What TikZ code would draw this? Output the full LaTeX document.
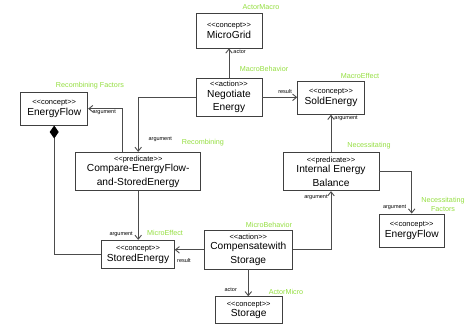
\documentclass[tikz,border=0pt]{standalone}
\usepackage{fontspec}
\setmainfont{Liberation Sans}
\usetikzlibrary{arrows.meta}
\definecolor{rolegreen}{RGB}{148,222,64}
\newcommand{\umltext}[2]{{\fontsize{7.5}{8}\selectfont <{}<#1>{}>}\\[-3pt]#2}

\begin{document}
\begin{tikzpicture}[x=1pt, y=-1pt, >={Straight Barb[length=4pt,width=6.5pt]},
    umlbox/.style={draw=black!75, line width=0.9pt, align=center, inner sep=1pt, font=\fontsize{10.2}{13.5}\selectfont},
    link/.style={->, draw=black!70, line width=0.9pt},
    role/.style={text=rolegreen, align=center, font=\fontsize{7.2}{9}\selectfont},
    tag/.style={inner sep=1pt, font=\fontsize{5.5}{6}\selectfont}]
    \useasboundingbox (0,0) rectangle (474,324);
    \node[umlbox, minimum width=66pt, minimum height=35pt] (microgrid) at (229,30.5) {\umltext{concept}{MicroGrid}};
    \node[umlbox, minimum width=66pt, minimum height=38pt] (negotiate) at (229,97.3) {\umltext{action}{Negotiate\\Energy}};
    \node[umlbox, minimum width=66.6pt, minimum height=33.3pt] (soldenergy) at (331,97.7) {\umltext{concept}{SoldEnergy}};
    \node[umlbox, minimum width=67pt, minimum height=32.7pt] (flowleft) at (54.2,108.7) {\umltext{concept}{EnergyFlow}};
    \node[umlbox, minimum width=125pt, minimum height=38.4pt] (compare) at (138.2,171.5) {\umltext{predicate}{Compare-EnergyFlow-\\and-StoredEnergy}};
    \node[umlbox, minimum width=96pt, minimum height=38pt] (balance) at (331,171.7) {\umltext{predicate}{Internal Energy\\Balance}};
    \node[umlbox, minimum width=65.3pt, minimum height=33.7pt] (flowright) at (411.7,230.8) {\umltext{concept}{EnergyFlow}};
    \node[umlbox, minimum width=72.6pt, minimum height=28.4pt] (storedenergy) at (138,254.5) {\umltext{concept}{StoredEnergy}};
    \node[umlbox, minimum width=88pt, minimum height=38.3pt] (compensate) at (248.3,249.8) {\umltext{action}{Compensatewith\\Storage}};
    \node[umlbox, minimum width=67.3pt, minimum height=27pt] (storage) at (248.7,310.2) {\umltext{concept}{Storage}};

    \node[role] (roleactormacro) at (261,7) {ActorMacro};
    \node[role] (rolemacrobehavior) at (264,69) {MacroBehavior};
    \node[role] (rolemacroeffect) at (360,76) {MacroEffect};
    \node[role] (rolerecombfactors) at (90,86) {Recombining Factors};
    \node[role] (rolerecombining) at (203,143) {Recombining};
    \node[role] (rolenecessitating) at (369,146) {Necessitating};
    \node[role] (rolenecfactors) at (443,204.5) {Necessitating\\Factors};
    \node[role] (rolemicroeffect) at (165,233) {MicroEffect};
    \node[role] (rolemicrobehavior) at (269,225) {MicroBehavior};
    \node[role] (roleactormicro) at (286,292) {ActorMicro};

    \draw[link] (negotiate.north) -- (negotiate.north |- microgrid.south) node[tag, pos=1, anchor=north west, xshift=3pt] {actor};
    \draw[link] (negotiate.east) -- (negotiate.east -| soldenergy.west) node[tag, pos=1, anchor=south east, xshift=-4pt, yshift=2pt] {result};
    \draw[link] (negotiate.west) -| (compare.north) node[tag, pos=1, anchor=south west, xshift=9pt, yshift=9pt] {argument};
    \draw[link] ([xshift=-16pt]compare.north) |- (flowleft.east) node[tag, pos=1, anchor=north west, xshift=3pt] {argument};
    \draw[link] (compare.south) -- (compare.south |- storedenergy.north) node[tag, pos=1, anchor=south east, xshift=-4pt, yshift=2pt] {argument};
    \draw[{Diamond[length=13pt,width=9pt,color=black,fill=black]}-, draw=black!70, line width=0.9pt] (flowleft.south) |- (storedenergy.west);
    \draw[link] (compensate.west) -- (compensate.west -| storedenergy.east) node[tag, pos=1, anchor=north west, xshift=1pt, yshift=-7pt] {result};
    \draw[link] (compensate.east) -| (balance.south) node[tag, pos=1, anchor=north east, xshift=-2pt, yshift=-2pt] {argument};
    \draw[link] (balance.north) -- (balance.north |- soldenergy.south) node[tag, pos=1, anchor=north west, xshift=2pt] {argument};
    \draw[link] (balance.east) -| (flowright.north) node[tag, pos=1, anchor=south east, xshift=-4pt, yshift=2pt] {argument};
    \draw[link] (compensate.south) -- (compensate.south |- storage.north) node[tag, pos=1, anchor=south east, xshift=-10pt, yshift=3pt] {actor};
\end{tikzpicture}
\end{document}
